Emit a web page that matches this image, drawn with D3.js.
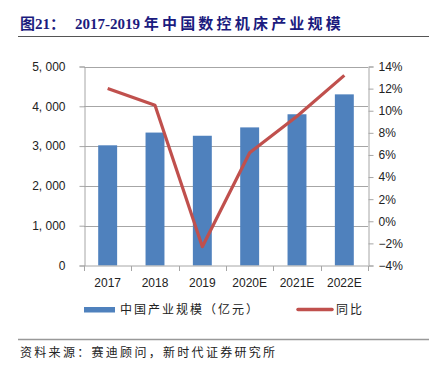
<!DOCTYPE html>
<html>
<head>
<meta charset="utf-8">
<script src="https://cdn.jsdelivr.net/npm/d3@7"></script>
<style>
  body { margin: 0; background: #fff; }
  svg { display: block; }
</style>
</head>
<body>
<svg id="chart" width="429" height="371"></svg>
<script>
// data
const years = ['2017', '2018', '2019', '2020E', '2021E', '2022E'];
const scale = [3020, 3340, 3260, 3470, 3800, 4300];
const growth = [12.0, 10.5, -2.3, 6.2, 9.5, 13.2];
const leftTicks = [0, 1000, 2000, 3000, 4000, 5000];
const rightTicks = [-4, -2, 0, 2, 4, 6, 8, 10, 12, 14];

const svg = d3.select('#chart');
const plot = { left: 84, right: 368, top: 66.5, bottom: 265.5 };

const x = d3.scaleBand().domain(years).range([plot.left, plot.right]);
const yL = d3.scaleLinear().domain([0, 5000]).range([plot.bottom, plot.top]);
const yR = d3.scaleLinear().domain([-4, 14]).range([plot.bottom, plot.top]);

const grey = '#a6a6a6';
const fmt = d => d3.format(',')(d).replace(',', ', ');

// title
const title = svg.append('text')
  .attr('x', 20).attr('y', 29)
  .attr('font-family', '"Liberation Serif", "Noto Sans CJK SC", serif')
  .attr('font-weight', 'bold')
  .attr('font-size', 15)
  .attr('fill', '#1b1b7e');
title.append('tspan').text('图21：');
title.append('tspan').attr('x', 75).text('2017-2019 ');
title.append('tspan').attr('letter-spacing', 3.2).text('年中国数控机床产业规模');

svg.append('line')
  .attr('x1', 18).attr('x2', 429).attr('y1', 36.5).attr('y2', 36.5)
  .attr('stroke', '#555').attr('stroke-width', 1.2);

// gridlines
svg.append('g')
  .selectAll('line')
  .data(leftTicks.slice(1))
  .join('line')
  .attr('x1', plot.left).attr('x2', plot.right)
  .attr('y1', d => Math.round(yL(d)) + 0.5).attr('y2', d => Math.round(yL(d)) + 0.5)
  .attr('stroke', grey).attr('stroke-width', 1);

// bars
const bw = x.bandwidth() * 0.4;
svg.append('g')
  .selectAll('rect')
  .data(years)
  .join('rect')
  .attr('x', (d, i) => x(d) + x.bandwidth() / 2 - bw / 2)
  .attr('width', bw)
  .attr('y', (d, i) => yL(scale[i]))
  .attr('height', (d, i) => plot.bottom - yL(scale[i]))
  .attr('fill', '#4f81bd');

// axes
const axisFont = '"Liberation Sans", Arial, sans-serif';

const gL = svg.append('g').attr('transform', `translate(${plot.left + 0.5},0)`)
  .call(d3.axisLeft(yL).tickValues(leftTicks).tickFormat(fmt).tickSize(5).tickPadding(14));
const gR = svg.append('g').attr('transform', `translate(${plot.right + 0.5},0)`)
  .call(d3.axisRight(yR).tickValues(rightTicks).tickFormat(d => (d < 0 ? '\u2212' + (-d) : d) + '%').tickSize(5).tickPadding(5));
const gX = svg.append('g').attr('transform', `translate(0,${plot.bottom + 0.5})`)
  .call(d3.axisBottom(x).tickSize(0).tickPadding(12));

// x ticks at category boundaries
gX.selectAll('.boundary')
  .data(d3.range(years.length + 1))
  .join('line')
  .attr('x1', i => Math.round(plot.left + i * x.step()) + 0.5)
  .attr('x2', i => Math.round(plot.left + i * x.step()) + 0.5)
  .attr('y1', 0).attr('y2', 5)
  .attr('stroke', grey);

[gL, gR, gX].forEach(g => {
  g.select('.domain').attr('stroke', grey);
  g.selectAll('.tick line').attr('stroke', grey);
  g.selectAll('text')
    .attr('font-family', axisFont)
    .attr('font-size', 12)
    .attr('fill', '#222');
});
gX.select('.domain').attr('d', `M${plot.left},0H${plot.right}`);

// growth line
const line = d3.line()
  .x((d, i) => x(years[i]) + x.bandwidth() / 2)
  .y(d => yR(d));

svg.append('path')
  .datum(growth)
  .attr('d', line)
  .attr('fill', 'none')
  .attr('stroke', '#c0504d')
  .attr('stroke-width', 3.2)
  .attr('stroke-linejoin', 'round');

// legend
const cjk = '"Noto Sans CJK SC", sans-serif';
svg.append('rect')
  .attr('x', 84).attr('y', 307).attr('width', 31).attr('height', 5.5)
  .attr('fill', '#4f81bd');
svg.append('text')
  .attr('x', 120).attr('y', 314)
  .attr('font-family', cjk).attr('font-size', 12).attr('fill', '#222')
  .attr('letter-spacing', 2)
  .text('中国产业规模（亿元）');
svg.append('line')
  .attr('x1', 298).attr('x2', 332).attr('y1', 309.5).attr('y2', 309.5)
  .attr('stroke', '#c0504d').attr('stroke-width', 3.5).attr('stroke-linecap', 'round');
svg.append('text')
  .attr('x', 336).attr('y', 314)
  .attr('font-family', cjk).attr('font-size', 12).attr('fill', '#222')
  .attr('letter-spacing', 2)
  .text('同比');

// source
svg.append('line')
  .attr('x1', 18).attr('x2', 429).attr('y1', 339.5).attr('y2', 339.5)
  .attr('stroke', '#999').attr('stroke-width', 1.5);
svg.append('text')
  .attr('x', 20).attr('y', 357)
  .attr('font-family', cjk).attr('font-size', 12).attr('fill', '#222')
  .attr('letter-spacing', 2.3)
  .text('资料来源：赛迪顾问，新时代证券研究所');
</script>
</body>
</html>
